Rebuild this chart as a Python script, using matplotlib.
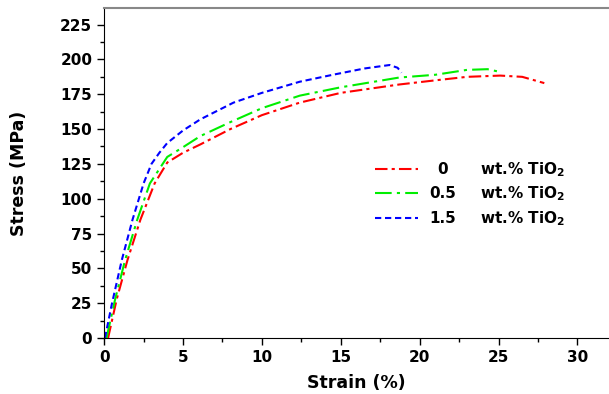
import matplotlib
matplotlib.use("Agg")
import matplotlib.pyplot as plt
from matplotlib.ticker import MultipleLocator

plt.rcParams['font.family'] = ['DejaVu Sans']
plt.rcParams['font.weight'] = 'bold'

# 0 wt.% TiO2
strain_0 = [0.25, 0.8, 1.48, 2.3, 3.2, 4.0, 5.0, 6.1, 8.0, 10.0, 12.4, 15.0,
            18.7, 21.0, 23.0, 25.1, 26.5, 27.9]
stress_0 = [0, 28, 56, 85, 111, 126, 133, 139, 150, 160, 169, 176,
            182, 185, 187.5, 188.4, 187.5, 183]

# 0.5 wt.% TiO2
strain_05 = [0.15, 0.7, 1.33, 2.1, 2.9, 4.0, 5.0, 6.1, 8.0, 10.0, 12.4, 15.0,
             18.7, 21.0, 23.0, 24.3, 24.9]
stress_05 = [0, 28, 56, 85, 111, 130, 137, 145, 155, 165, 174, 180,
             187, 189, 192.5, 193, 191.5]

# 1.5 wt.% TiO2
strain_15 = [0.05, 0.5, 1.12, 1.8, 2.5, 3.0, 3.5, 4.0, 5.0, 6.1, 8.2, 10.0,
             12.4, 14.5, 16.5, 18.1, 18.6, 18.85]
stress_15 = [0, 25, 56, 85, 111, 125, 133, 140, 149, 157, 169, 176,
             184, 189, 193.5, 196, 194, 190.5]

loadings = ["0", "0.5", "1.5"]

fig = plt.figure(figsize=(6.09, 3.94), dpi=100)
ax = fig.add_axes([0.171, 0.142, 0.829, 0.838])

h0, = ax.plot(strain_0, stress_0, color='red', lw=1.5, dashes=(6, 2, 1.5, 2))
h1, = ax.plot(strain_05, stress_05, color='#00ee00', lw=1.5, dashes=(8, 2.5, 1.5, 2.5))
h2, = ax.plot(strain_15, stress_15, color='blue', lw=1.5, dashes=(3, 1.8))

ax.set_xlim(0, 32)
ax.set_ylim(0, 237)
ax.xaxis.set_major_locator(MultipleLocator(5))
ax.xaxis.set_minor_locator(MultipleLocator(2.5))
ax.yaxis.set_major_locator(MultipleLocator(25))
ax.yaxis.set_minor_locator(MultipleLocator(12.5))
ax.tick_params(which='major', direction='out', length=5, width=1, labelsize=11)
ax.tick_params(which='minor', direction='out', length=3, width=1)
ax.spines['right'].set_visible(False)
ax.spines['top'].set_color('#888888')
ax.spines['top'].set_linewidth(1.5)

ax.set_xlabel("Strain (%)", fontsize=12.5, fontweight='bold')
ax.set_ylabel("Stress (MPa)", fontsize=12.5, fontweight='bold')
ax.xaxis.set_label_coords(0.5, -0.108)
ax.yaxis.set_label_coords(-0.15, 0.5)

leg = ax.legend([h0, h1, h2], loadings, loc='upper left',
                bbox_to_anchor=(375 / 609, 1 - 162 / 394),
                bbox_transform=fig.transFigure, frameon=False, fontsize=11,
                borderpad=0, borderaxespad=0,
                handlelength=2.8, handletextpad=0.8, labelspacing=0.62)

# numbers centred in their own column, "wt.% TiO2" in a second column
fig.canvas.draw()
inv = fig.transFigure.inverted()
for t, lab in zip(leg.get_texts(), loadings):
    bb = t.get_window_extent()
    yc = inv.transform((0, (bb.y0 + bb.y1) / 2))[1]
    t.set_visible(False)
    fig.text(443 / 609, yc, lab, fontsize=11, fontweight='bold', ha='center', va='center')
    fig.text(480 / 609, yc, "wt.% TiO$_\\mathbf{2}$", fontsize=11, fontweight='bold',
             ha='left', va='center')

fig.savefig("out.png", dpi=100)
